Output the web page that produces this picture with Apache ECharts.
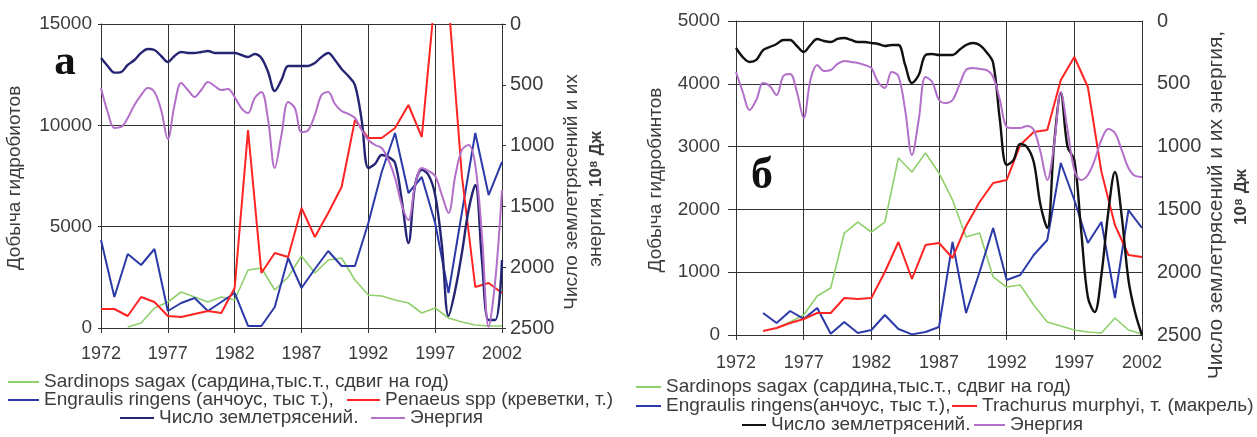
<!DOCTYPE html>
<html><head><meta charset="utf-8">
<script src="https://cdn.jsdelivr.net/npm/echarts@6/dist/echarts.min.js"></script>
<style>html,body{margin:0;padding:0;background:#fff}#c{width:1257px;height:437px}</style>
</head><body><div id="c"></div>
<script>
// ---------- categories ----------
const years = [1972,1973,1974,1975,1976,1977,1978,1979,1980,1981,1982,1983,1984,1985,1986,1987,1988,1989,1990,1991,1992,1993,1994,1995,1996,1997,1998,1999,2000,2001,2002];
const halfYears = [];
for (let i = 0; i <= 60; i++) halfYears.push(1972 + i / 2);
const xTickLabels = ['1972','1977','1982','1987','1992','1997','2002'];

// ---------- panel а (left) ----------
const sardA = [null,null,49,247,987,1283,1776,1530,1283,1530,1382,2862,2960,1875,2516,3550,2714,3355,3454,2368,1628,1579,1382,1234,740,987,493,296,148,99,99];
const engrA = [4342,1530,3651,3108,3898,839,1234,1480,839,1283,1727,99,99,1036,3454,1974,2912,3799,3059,3059,5180,7697,9622,6661,7451,5180,1727,5700,9622,6562,8191];
const penaeusA = [937,937,592,1530,1283,592,543,691,839,740,1974,9770,2714,3700,3503,5921,4490,5674,6957,10263,9375,9375,9868,11003,9424,16500,16100,7500,2023,2220,1727];
const quakesA = [280,345,400,395,337,296,238,206,214,263,312,263,230,238,238,230,222,238,238,238,238,255,271,247,280,395,551,460,345,345,345,345,320,271,238,296,370,428,502,790,1184,1150,1077,1094,1143,1447,1801,1324,1200,1242,1406,1817,2400,2188,1883,1530,1324,1941,2434,2434,1941];
const energyA = [526,724,855,847,773,666,584,526,559,707,946,666,485,543,600,543,477,510,543,535,600,691,732,609,559,789,1184,913,641,691,888,872,748,584,559,658,715,740,773,872,954,995,1020,1118,1266,1488,1612,1324,1184,1209,1250,1406,1554,1250,1036,995,1160,1735,2490,2105,1365];

// ---------- panel б (right) ----------
const sardB = [null,null,null,111,207,318,621,748,1624,1799,1640,1799,2818,2596,2898,2580,2150,1561,1624,924,764,796,478,207,143,80,48,32,271,80,16];
const engrB = [null,null,350,191,382,255,430,20,207,32,80,318,96,10,48,127,1481,350,1003,1704,876,955,1274,1513,2739,2150,1465,1799,589,1990,1704];
const trachB = [null,null,64,111,191,255,350,350,589,573,589,1003,1481,892,1433,1465,1226,1736,2118,2420,2468,3025,3232,3264,4061,4427,3949,2600,1752,1274,1242];
const quakesB = [215,287,326,310,231,207,183,151,151,199,247,191,143,159,167,143,135,151,167,167,175,183,199,191,191,350,494,430,271,263,271,271,271,231,191,175,191,247,334,788,1146,1107,979,1003,1123,1465,1648,987,573,1003,1107,1664,2200,2317,2022,1529,1202,1553,2062,2325,2500];
const energyB = [406,565,709,629,494,518,589,438,422,565,772,470,350,398,390,342,318,326,334,350,374,486,533,406,438,709,1067,788,446,486,629,653,629,510,390,374,382,390,446,629,844,852,852,836,868,1043,1266,987,565,868,1186,1266,1226,1107,947,860,892,1027,1170,1234,1242];

// ---------- names ----------
const nSard = 'Sardinops sagax (сардина,тыс.т., сдвиг на год)';
const nEngrA = 'Engraulis ringens (анчоус, тыс т.),';
const nEngrB = 'Engraulis ringens(анчоус, тыс т.),';
const nPen = 'Penaeus spp (креветки, т.)';
const nTrach = 'Trachurus murphyi, т. (макрель)';
const nQuake = 'Число землетрясений.';
const nEnergy = 'Энергия';

const C = {green:'#8fd06c', blue:'#2b3aa8', red:'#ff2424', navy:'#262574', purple:'#b36fc9', black:'#111111'};
const FONT = '"Liberation Sans", Arial, sans-serif';
const TXT = '#3c3c3c';

function pairs(xs, vs){ return xs.map((x,i)=>[x, vs[i]]); }
function line(name, xi, yi, xs, vs, color, width, smooth){
  return {type:'line', name, xAxisIndex:xi, yAxisIndex:yi, data:pairs(xs,vs), symbol:'none', showSymbol:false,
    smooth: smooth||false, connectNulls:false, clip:true, animation:false,
    lineStyle:{color, width}, itemStyle:{color}, emphasis:{disabled:true}};
}
const plain = (v)=>String(v);
function xAxis(gi, margin){
  return {type:'value', gridIndex:gi, min:1972, max:2002, interval:5,
    axisLine:{show:true, lineStyle:{color:'#333', width:1}},
    axisTick:{show:true, length:5, lineStyle:{color:'#333'}},
    axisLabel:{show:true, margin, color:TXT, fontSize:18, fontFamily:FONT,
      formatter:(v)=>{const i=Math.round((v-1972)/5); return xTickLabels[i]!==undefined?xTickLabels[i]:'';}},
    splitLine:{show:true, lineStyle:{color:'#333', width:1}}};
}
function leftY(gi, max, interval, margin, tickLen){
  return {type:'value', gridIndex:gi, position:'left', min:0, max, interval,
    axisLine:{show:true, onZero:false, lineStyle:{color:'#333', width:1}},
    axisTick:{show:true, length:tickLen, lineStyle:{color:'#333'}},
    axisLabel:{margin, color:TXT, fontSize:19, fontFamily:FONT, formatter:plain},
    splitLine:{show:true, lineStyle:{color:'#333', width:1}}};
}
function rightY(gi, margin, tickLen, fs){
  return {type:'value', gridIndex:gi, position:'right', inverse:true, min:0, max:2500, interval:500,
    axisLine:{show:true, onZero:false, lineStyle:{color:'#333', width:1}},
    axisTick:{show:tickLen>0, length:tickLen, lineStyle:{color:'#333'}},
    axisLabel:{margin, color:TXT, fontSize:fs, fontFamily:FONT, formatter:plain},
    splitLine:{show:false}};
}
function leg(name, left, centerY, w, color){
  const d = color ? {name, itemStyle:{color}} : {name};
  return {show:true, left, top:centerY-10, padding:0, itemGap:0, itemWidth:w, itemHeight:2, icon:'rect',
    selectedMode:false, data:[d], textStyle:{fontSize:19, lineHeight:20, color:TXT, fontFamily:FONT}};
}
function vtext(x, y, text, size, rich){
  const st = {text, fill:TXT, fontSize:size, fontFamily:FONT, align:'center', verticalAlign:'middle',
    textAlign:'center', textVerticalAlign:'middle'};
  if (rich) st.rich = rich;
  return {type:'text', x, y, rotation:Math.PI/2, style:st, silent:true};
}
const richB = (fs)=>({n:{fontSize:fs, fontFamily:FONT, fill:TXT, color:TXT}, b:{fontSize:fs-2, fontWeight:'bold', fontFamily:FONT, fill:TXT, color:TXT}});

const chart = echarts.init(document.getElementById('c'), null, {renderer:'canvas'});
chart.setOption({
  animation:false,
  backgroundColor:'#ffffff',
  grid:[
    {left:101, top:24, width:401, height:304, containLabel:false, outerBoundsMode:'none'},
    {left:736, top:21, width:406, height:314, containLabel:false, outerBoundsMode:'none'}
  ],
  xAxis:[xAxis(0, 17), xAxis(1, 19)],
  yAxis:[leftY(0, 15000, 5000, 9, 3), rightY(0, 8, 4, 20), leftY(1, 5000, 1000, 16, 8), rightY(1, 15, 0, 20)],
  legend:[
    leg(nSard, 8, 382, 31),
    leg(nEngrA, 8, 400, 31),
    leg(nPen, 347, 400, 33),
    leg(nQuake, 120, 418, 34, C.navy),
    leg(nEnergy, 371, 418, 34),
    leg(nSard, 636, 387, 25),
    leg(nEngrB, 636, 406, 25),
    leg(nTrach, 952, 406, 25),
    leg(nQuake, 742, 425, 24, C.black),
    leg(nEnergy, 974, 425, 31)
  ],
  graphic:[
    vtext(15, 178, 'Добыча гидробиотов', 19),
    vtext(572, 192, 'Число землетрясений и их', 19),
    vtext(596, 199, '{n|энергия,} {b|10⁸ Дж}', 19, richB(19)),
    vtext(656, 180, 'Добыча гидробинтов', 19),
    vtext(1216, 205, 'Число землетрясений и их энергия,', 21),
    vtext(1241, 197, '{b|10⁸ Дж}', 19, richB(19)),
    {type:'text', x:65, y:63, silent:true, style:{text:'а', fill:'#111', fontSize:43, fontWeight:'bold', fontFamily:'"Liberation Serif", "Times New Roman", serif', align:'center', verticalAlign:'middle', textAlign:'center', textVerticalAlign:'middle'}},
    {type:'text', x:762, y:177, silent:true, style:{text:'б', fill:'#111', fontSize:44, fontWeight:'bold', fontFamily:'"Liberation Serif", "Times New Roman", serif', align:'center', verticalAlign:'middle', textAlign:'center', textVerticalAlign:'middle'}}
  ],
  series:[
    line(nSard, 0, 0, years, sardA, C.green, 1.6),
    line(nEngrA, 0, 0, years, engrA, C.blue, 2),
    line(nPen, 0, 0, years, penaeusA, C.red, 2),
    line(nQuake, 0, 1, halfYears, quakesA, C.navy, 2.4, 0.35),
    line(nEnergy, 0, 1, halfYears, energyA, C.purple, 2, 0.35),
    line(nSard, 1, 2, years, sardB, C.green, 1.6),
    line(nEngrB, 1, 2, years, engrB, C.blue, 2),
    line(nTrach, 1, 2, years, trachB, C.red, 2),
    line(nQuake, 1, 3, halfYears, quakesB, C.black, 2.4, 0.35),
    line(nEnergy, 1, 3, halfYears, energyB, C.purple, 2, 0.35)
  ]
});
</script></body></html>
